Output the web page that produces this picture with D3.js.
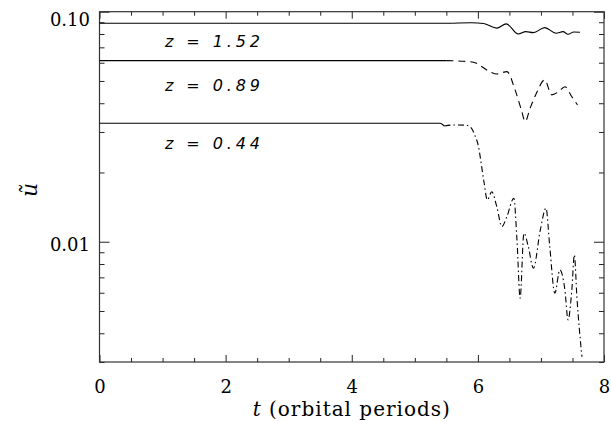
<!DOCTYPE html>
<html>
<head>
<meta charset="utf-8">
<script src="https://cdn.jsdelivr.net/npm/d3@7"></script>
<style>
  body { margin: 0; background: #fff; }
  svg { display: block; }
</style>
</head>
<body>
<svg id="chart"></svg>
<script>
// z = 1.52 (solid)
const tHigh = [0, 5.6, 5.9, 6.09, 6.3, 6.45, 6.64, 6.76, 6.88, 7.06, 7.24, 7.35, 7.43, 7.52, 7.62];
const uHigh = [0.0891, 0.0891, 0.0895, 0.0889, 0.0848, 0.0885, 0.08, 0.0819, 0.0811, 0.0853, 0.0806, 0.0819, 0.0798, 0.0816, 0.0814];

// z = 0.89 (dashed)
const tMid = [0, 5.5, 5.77, 5.93, 6.19, 6.3, 6.46, 6.59, 6.69, 6.75, 6.83, 6.93, 7.06, 7.17, 7.28, 7.38, 7.49, 7.58];
const uMid = [0.0613, 0.0613, 0.0609, 0.0603, 0.0549, 0.0536, 0.0549, 0.0457, 0.0374, 0.0333, 0.0382, 0.0443, 0.0505, 0.0435, 0.0449, 0.0472, 0.0427, 0.0393];

// z = 0.44 (dash-dot)
const tLow = [0, 5.4, 5.47, 5.61, 5.82, 5.9, 5.95, 6.01, 6.06, 6.1, 6.15, 6.22, 6.3, 6.38, 6.46, 6.57, 6.62, 6.67, 6.73, 6.8, 6.88, 6.99, 7.08, 7.14, 7.22, 7.3, 7.38, 7.43, 7.49, 7.53, 7.57, 7.65];
const uLow = [0.03274, 0.03274, 0.03186, 0.03218, 0.03208, 0.03113, 0.02911, 0.02589, 0.02119, 0.01795, 0.01519, 0.0165, 0.01421, 0.01163, 0.01286, 0.01545, 0.01018, 0.00568, 0.01089, 0.00952, 0.00767, 0.01125, 0.01398, 0.00952, 0.00597, 0.00754, 0.00617, 0.00457, 0.00617, 0.00876, 0.00577, 0.00316];

const seriesLabels = ["z = 1.52", "z = 0.89", "z = 0.44"];
const xMajor = [0, 2, 4, 6, 8];
const yMajor = [0.01, 0.1];

const width = 611;
const height = 422;
const margin = { top: 11.7, right: 7, bottom: 60, left: 99.5 };

const svg = d3.select("#chart").attr("width", width).attr("height", height);

const x = d3.scaleLinear().domain([0, 8]).range([margin.left, width - margin.right]);
const y = d3.scaleLog().domain([0.003, 0.1]).range([height - margin.bottom, margin.top]);

const xMinor = d3.range(0.5, 8, 0.5).filter((d) => d % 2 !== 0);
const yMinor = [3, 4, 5, 6, 7, 8, 9].map((d) => d / 1000).concat([2, 3, 4, 5, 6, 7, 8, 9].map((d) => d / 100));

const ink = "#222";
const serif = "DejaVu Serif, serif";

function styleAxis(g) {
  g.select(".domain").remove();
  g.selectAll(".tick line").attr("stroke", ink).attr("stroke-width", 1);
  g.selectAll(".tick text").attr("fill", "#000").attr("font-family", serif).attr("font-size", 18);
}

// 底部和顶部刻度
svg.append("g")
  .attr("transform", `translate(0,${y.range()[0]})`)
  .call(d3.axisBottom(x).tickValues(xMajor).tickSize(-7).tickPadding(18).tickFormat(d3.format("d")))
  .call(styleAxis);
svg.append("g")
  .attr("transform", `translate(0,${y.range()[0]})`)
  .call(d3.axisBottom(x).tickValues(xMinor).tickSize(-4).tickFormat(""))
  .call(styleAxis);
svg.append("g")
  .attr("transform", `translate(0,${margin.top})`)
  .call(d3.axisTop(x).tickValues(xMajor).tickSize(-7).tickFormat(""))
  .call(styleAxis);
svg.append("g")
  .attr("transform", `translate(0,${margin.top})`)
  .call(d3.axisTop(x).tickValues(xMinor).tickSize(-4).tickFormat(""))
  .call(styleAxis);

// 左右刻度
svg.append("g")
  .attr("transform", `translate(${margin.left},0)`)
  .call(d3.axisLeft(y).tickValues(yMajor).tickSize(-10).tickPadding(9.5).tickFormat(d3.format(".2f")))
  .call(styleAxis)
  .call((g) => g.selectAll(".tick text").attr("dy", (d) => (d === 0.1 ? "0.75em" : "0.5em")));
svg.append("g")
  .attr("transform", `translate(${margin.left},0)`)
  .call(d3.axisLeft(y).tickValues(yMinor).tickSize(-5).tickFormat(""))
  .call(styleAxis);
svg.append("g")
  .attr("transform", `translate(${width - margin.right},0)`)
  .call(d3.axisRight(y).tickValues(yMajor).tickSize(-10).tickFormat(""))
  .call(styleAxis);
svg.append("g")
  .attr("transform", `translate(${width - margin.right},0)`)
  .call(d3.axisRight(y).tickValues(yMinor).tickSize(-5).tickFormat(""))
  .call(styleAxis);

// frame
svg.append("rect")
  .attr("x", x(0))
  .attr("y", y(0.1))
  .attr("width", x(8) - x(0))
  .attr("height", y(0.003) - y(0.1))
  .attr("fill", "none")
  .attr("stroke", "#333")
  .attr("stroke-width", 1.2);

// curves
const line = d3.line()
  .x((d) => x(d[0]))
  .y((d) => y(d[1]))
  .curve(d3.curveMonotoneX);

const series = [
  { t: tHigh, u: uHigh, split: 5.6, dash: null },
  { t: tMid, u: uMid, split: 5.5, dash: "7,5" },
  { t: tLow, u: uLow, split: 5.47, dash: "6,3,1.5,3" },
];

series.forEach((s) => {
  const pts = s.t.map((t, i) => [t, s.u[i]]);
  const head = pts.filter((p) => p[0] <= s.split);
  const tail = pts.filter((p) => p[0] >= s.split);
  svg.append("path")
    .datum(head)
    .attr("d", line)
    .attr("fill", "none")
    .attr("stroke", "#000")
    .attr("stroke-width", 1.2);
  svg.append("path")
    .datum(tail)
    .attr("d", line)
    .attr("fill", "none")
    .attr("stroke", "#000")
    .attr("stroke-width", 1.1)
    .attr("stroke-dasharray", s.dash);
});

// series labels
const labelY = [41.7, 85, 143];
svg.selectAll(".zlabel")
  .data(seriesLabels)
  .join("text")
  .attr("class", "zlabel")
  .attr("x", 165)
  .attr("y", (_, i) => labelY[i])
  .attr("dy", "0.36em")
  .attr("font-family", "DejaVu Sans, sans-serif")
  .attr("font-style", "italic")
  .attr("font-size", 16)
  .attr("textLength", 95)
  .attr("lengthAdjust", "spacing")
  .text((d) => d);

// axis titles
const xt = svg.append("text")
  .attr("x", (x(0) + x(8)) / 2)
  .attr("y", 416)
  .attr("text-anchor", "middle")
  .attr("font-family", serif)
  .attr("font-size", 20)
  .attr("letter-spacing", 1);
xt.append("tspan").attr("font-style", "italic").text("t");
xt.append("tspan").text(" (orbital periods)");

svg.append("g")
  .attr("transform", "translate(29,190) rotate(-90)")
  .append("text")
  .attr("text-anchor", "middle")
  .attr("dy", "0.35em")
  .attr("font-family", serif)
  .attr("font-style", "italic")
  .attr("font-size", 22)
  .text("ũ");
</script>
</body>
</html>
